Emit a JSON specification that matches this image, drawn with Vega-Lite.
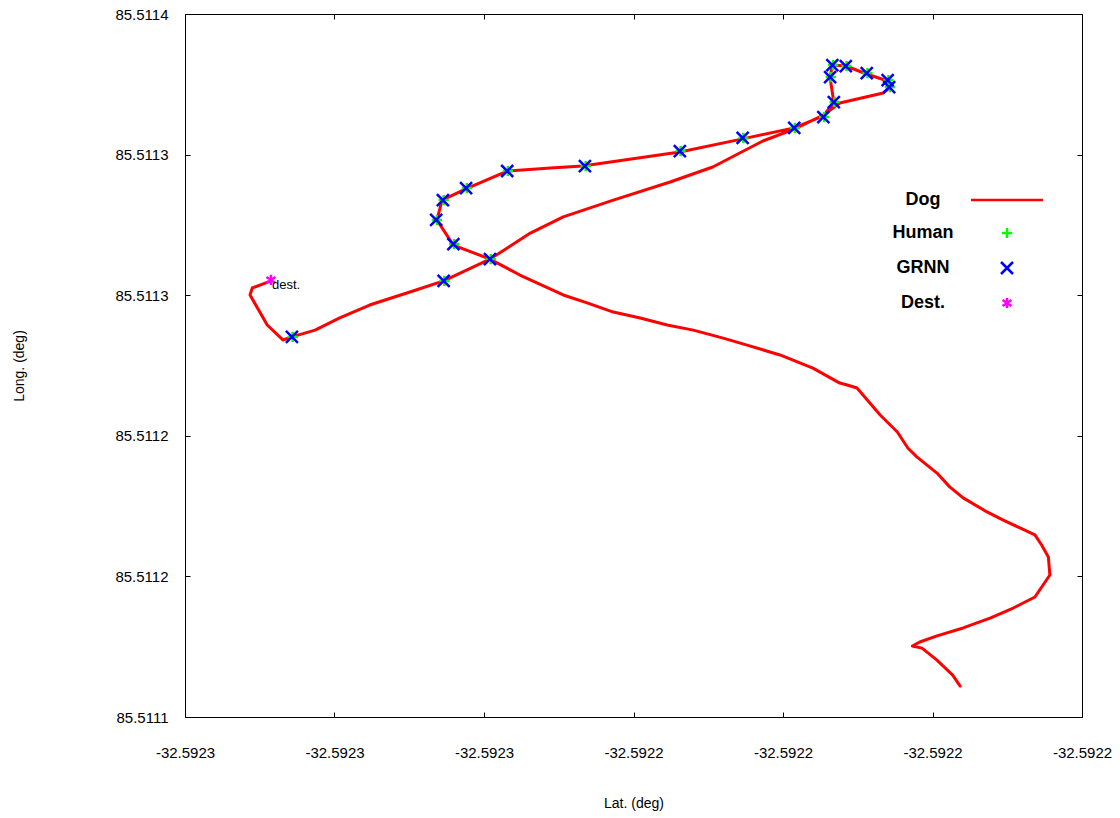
{
  "$schema": "https://vega.github.io/schema/vega-lite/v6.json",
  "width": 897,
  "height": 703,
  "autosize": "none",
  "padding": {"left": 185, "top": 14, "right": 38, "bottom": 101},
  "background": "white",
  "config": {
    "locale": {"number": {"decimal": ".", "thousands": ",", "grouping": [3], "currency": ["$", ""], "minus": "-"}},
    "font": "Liberation Sans",
    "view": {"stroke": "#000000", "strokeWidth": 1},
    "axis": {
      "domain": false,
      "grid": false,
      "tickColor": "#000000",
      "tickWidth": 1,
      "tickSize": -5,
      "labelFont": "Liberation Sans",
      "labelFontSize": 15,
      "labelColor": "#000000",
      "labelFlush": false,
      "labelOverlap": false,
      "titleFont": "Liberation Sans",
      "titleFontSize": 14,
      "titleFontWeight": "normal",
      "titleColor": "#000000"
    }
  },
  "datasets": {
    "dog": [
      {"seq": 1, "lat": -32.5921963, "lon": 85.5111132},
      {"seq": 2, "lat": -32.5921973, "lon": 85.5111179},
      {"seq": 3, "lat": -32.5921994, "lon": 85.5111243},
      {"seq": 4, "lat": -32.5922014, "lon": 85.5111294},
      {"seq": 5, "lat": -32.5922027, "lon": 85.5111303},
      {"seq": 6, "lat": -32.5922017, "lon": 85.511132},
      {"seq": 7, "lat": -32.5921994, "lon": 85.5111346},
      {"seq": 8, "lat": -32.5921959, "lon": 85.511138},
      {"seq": 9, "lat": -32.5921923, "lon": 85.5111422},
      {"seq": 10, "lat": -32.5921892, "lon": 85.5111465},
      {"seq": 11, "lat": -32.5921863, "lon": 85.5111512},
      {"seq": 12, "lat": -32.5921843, "lon": 85.5111606},
      {"seq": 13, "lat": -32.5921845, "lon": 85.5111683},
      {"seq": 14, "lat": -32.5921854, "lon": 85.5111734},
      {"seq": 15, "lat": -32.5921863, "lon": 85.5111777},
      {"seq": 16, "lat": -32.5921883, "lon": 85.5111807},
      {"seq": 17, "lat": -32.5921906, "lon": 85.5111841},
      {"seq": 18, "lat": -32.5921927, "lon": 85.5111875},
      {"seq": 19, "lat": -32.5921959, "lon": 85.5111935},
      {"seq": 20, "lat": -32.5921977, "lon": 85.5111982},
      {"seq": 21, "lat": -32.5921994, "lon": 85.5112041},
      {"seq": 22, "lat": -32.5922021, "lon": 85.511211},
      {"seq": 23, "lat": -32.5922033, "lon": 85.5112148},
      {"seq": 24, "lat": -32.5922047, "lon": 85.5112216},
      {"seq": 25, "lat": -32.592207, "lon": 85.5112289},
      {"seq": 26, "lat": -32.5922101, "lon": 85.5112404},
      {"seq": 27, "lat": -32.5922114, "lon": 85.5112417},
      {"seq": 28, "lat": -32.5922124, "lon": 85.5112425},
      {"seq": 29, "lat": -32.592216, "lon": 85.5112489},
      {"seq": 30, "lat": -32.5922204, "lon": 85.5112545},
      {"seq": 31, "lat": -32.5922248, "lon": 85.5112587},
      {"seq": 32, "lat": -32.592228, "lon": 85.5112617},
      {"seq": 33, "lat": -32.592232, "lon": 85.5112651},
      {"seq": 34, "lat": -32.5922355, "lon": 85.5112673},
      {"seq": 35, "lat": -32.5922391, "lon": 85.5112703},
      {"seq": 36, "lat": -32.5922427, "lon": 85.5112728},
      {"seq": 37, "lat": -32.5922462, "lon": 85.5112767},
      {"seq": 38, "lat": -32.5922494, "lon": 85.5112801},
      {"seq": 39, "lat": -32.5922538, "lon": 85.5112865},
      {"seq": 40, "lat": -32.5922552, "lon": 85.5112886},
      {"seq": 41, "lat": -32.5922592, "lon": 85.5112954},
      {"seq": 42, "lat": -32.5922641, "lon": 85.5113014},
      {"seq": 43, "lat": -32.5922663, "lon": 85.5113121},
      {"seq": 44, "lat": -32.5922656, "lon": 85.5113206},
      {"seq": 45, "lat": -32.5922625, "lon": 85.5113253},
      {"seq": 46, "lat": -32.5922569, "lon": 85.511333},
      {"seq": 47, "lat": -32.5922511, "lon": 85.5113343},
      {"seq": 48, "lat": -32.5922468, "lon": 85.5113351},
      {"seq": 49, "lat": -32.5922338, "lon": 85.5113411},
      {"seq": 50, "lat": -32.5922254, "lon": 85.5113467},
      {"seq": 51, "lat": -32.5922185, "lon": 85.5113514},
      {"seq": 52, "lat": -32.5922146, "lon": 85.5113565},
      {"seq": 53, "lat": -32.5922132, "lon": 85.5113624},
      {"seq": 54, "lat": -32.5922137, "lon": 85.5113727},
      {"seq": 55, "lat": -32.5922134, "lon": 85.5113782},
      {"seq": 56, "lat": -32.5922116, "lon": 85.5113778},
      {"seq": 57, "lat": -32.5922088, "lon": 85.5113744},
      {"seq": 58, "lat": -32.592206, "lon": 85.5113714},
      {"seq": 59, "lat": -32.5922058, "lon": 85.5113684},
      {"seq": 60, "lat": -32.5922066, "lon": 85.5113663},
      {"seq": 61, "lat": -32.5922124, "lon": 85.511362},
      {"seq": 62, "lat": -32.5922146, "lon": 85.5113569},
      {"seq": 63, "lat": -32.5922185, "lon": 85.5113509},
      {"seq": 64, "lat": -32.5922227, "lon": 85.5113458},
      {"seq": 65, "lat": -32.5922294, "lon": 85.5113347},
      {"seq": 66, "lat": -32.5922351, "lon": 85.5113283},
      {"seq": 67, "lat": -32.5922427, "lon": 85.5113206},
      {"seq": 68, "lat": -32.5922494, "lon": 85.5113134},
      {"seq": 69, "lat": -32.5922538, "lon": 85.5113065},
      {"seq": 70, "lat": -32.5922592, "lon": 85.5112954},
      {"seq": 71, "lat": -32.5922654, "lon": 85.5112861},
      {"seq": 72, "lat": -32.5922695, "lon": 85.5112818},
      {"seq": 73, "lat": -32.5922753, "lon": 85.5112758},
      {"seq": 74, "lat": -32.5922793, "lon": 85.5112703},
      {"seq": 75, "lat": -32.5922826, "lon": 85.5112651},
      {"seq": 76, "lat": -32.5922857, "lon": 85.5112622},
      {"seq": 77, "lat": -32.5922869, "lon": 85.5112609},
      {"seq": 78, "lat": -32.592289, "lon": 85.5112673},
      {"seq": 79, "lat": -32.5922913, "lon": 85.5112801},
      {"seq": 80, "lat": -32.592291, "lon": 85.5112831},
      {"seq": 81, "lat": -32.5922885, "lon": 85.5112861}
    ],
    "pts": [
      {"series": "Human", "lat": -32.5922856, "lon": 85.5112622},
      {"series": "Human", "lat": -32.5922653, "lon": 85.5112861},
      {"series": "Human", "lat": -32.5922591, "lon": 85.5112954},
      {"series": "Human", "lat": -32.592264, "lon": 85.5113018},
      {"series": "Human", "lat": -32.5922663, "lon": 85.5113121},
      {"series": "Human", "lat": -32.5922654, "lon": 85.5113206},
      {"series": "Human", "lat": -32.5922623, "lon": 85.5113257},
      {"series": "Human", "lat": -32.5922568, "lon": 85.511333},
      {"series": "Human", "lat": -32.5922464, "lon": 85.5113351},
      {"series": "Human", "lat": -32.5922337, "lon": 85.5113415},
      {"series": "Human", "lat": -32.5922253, "lon": 85.5113471},
      {"series": "Human", "lat": -32.5922184, "lon": 85.5113514},
      {"series": "Human", "lat": -32.5922145, "lon": 85.511356},
      {"series": "Human", "lat": -32.5922131, "lon": 85.5113624},
      {"series": "Human", "lat": -32.5922136, "lon": 85.5113731},
      {"series": "Human", "lat": -32.5922133, "lon": 85.5113782},
      {"series": "Human", "lat": -32.5922115, "lon": 85.5113778},
      {"series": "Human", "lat": -32.5922087, "lon": 85.5113748},
      {"series": "Human", "lat": -32.5922059, "lon": 85.5113718},
      {"series": "Human", "lat": -32.5922057, "lon": 85.5113688},
      {"series": "GRNN", "lat": -32.5922857, "lon": 85.5112622},
      {"series": "GRNN", "lat": -32.5922654, "lon": 85.5112861},
      {"series": "GRNN", "lat": -32.5922592, "lon": 85.5112954},
      {"series": "GRNN", "lat": -32.5922641, "lon": 85.5113018},
      {"series": "GRNN", "lat": -32.5922664, "lon": 85.5113121},
      {"series": "GRNN", "lat": -32.5922655, "lon": 85.5113206},
      {"series": "GRNN", "lat": -32.5922624, "lon": 85.5113257},
      {"series": "GRNN", "lat": -32.5922569, "lon": 85.511333},
      {"series": "GRNN", "lat": -32.5922465, "lon": 85.5113351},
      {"series": "GRNN", "lat": -32.5922338, "lon": 85.5113415},
      {"series": "GRNN", "lat": -32.5922254, "lon": 85.5113471},
      {"series": "GRNN", "lat": -32.5922185, "lon": 85.5113514},
      {"series": "GRNN", "lat": -32.5922146, "lon": 85.511356},
      {"series": "GRNN", "lat": -32.5922132, "lon": 85.5113624},
      {"series": "GRNN", "lat": -32.5922137, "lon": 85.5113731},
      {"series": "GRNN", "lat": -32.5922134, "lon": 85.5113782},
      {"series": "GRNN", "lat": -32.5922116, "lon": 85.5113778},
      {"series": "GRNN", "lat": -32.5922088, "lon": 85.5113748},
      {"series": "GRNN", "lat": -32.592206, "lon": 85.5113718},
      {"series": "GRNN", "lat": -32.5922058, "lon": 85.5113688},
      {"series": "Dest.", "lat": -32.5922885, "lon": 85.5112865, "note": "dest."}
    ]
  },
  "layer": [
    {
      "data": {"name": "dog"},
      "mark": {"type": "line", "color": "#ff0000", "strokeWidth": 3, "strokeJoin": "round", "strokeCap": "round"},
      "encoding": {
        "x": {
          "field": "lat", "type": "quantitative",
          "scale": {"domain": [-32.5923, -32.59218], "nice": false, "zero": false},
          "axis": {
            "orient": "bottom",
            "values": [-32.5923, -32.59228, -32.59226, -32.59224, -32.59222, -32.5922, -32.59218],
            "format": ".4f",
            "labelPadding": 33,
            "title": "Lat. (deg)",
            "titlePadding": 36
          }
        },
        "y": {
          "field": "lon", "type": "quantitative",
          "scale": {"domain": [85.5111, 85.5114], "nice": false, "zero": false},
          "axis": {
            "orient": "left",
            "values": [85.5111, 85.51116, 85.51122, 85.51128, 85.51134, 85.5114],
            "format": ".4f",
            "labelPadding": 22,
            "title": "Long. (deg)",
            "titlePadding": 88
          }
        },
        "order": {"field": "seq", "type": "quantitative"}
      }
    },
    {
      "data": {"name": "pts"},
      "mark": {"type": "point", "filled": false, "strokeWidth": 2.5, "size": 144, "opacity": 1},
      "encoding": {
        "x": {
          "field": "lat", "type": "quantitative",
          "axis": {
            "orient": "top",
            "values": [-32.5923, -32.59228, -32.59226, -32.59224, -32.59222, -32.5922, -32.59218],
            "labels": false,
            "title": null
          }
        },
        "y": {
          "field": "lon", "type": "quantitative",
          "axis": {
            "orient": "right",
            "values": [85.5111, 85.51116, 85.51122, 85.51128, 85.51134, 85.5114],
            "labels": false,
            "title": null
          }
        },
        "color": {
          "field": "series", "type": "nominal",
          "scale": {"domain": ["Dog", "Human", "GRNN", "Dest."], "range": ["#ff0000", "#00ff00", "#0000ff", "#ff00ff"]},
          "legend": {
            "title": null,
            "orient": "none",
            "legendX": 813,
            "legendY": 177,
            "padding": 0,
            "labelAlign": "center",
            "labelOffset": -93,
            "labelFont": "Liberation Sans",
            "labelFontSize": 18,
            "labelFontWeight": "bold",
            "labelColor": "#000000",
            "symbolSize": 144,
            "symbolStrokeWidth": 2.5,
            "rowPadding": 13
          }
        },
        "shape": {
          "field": "series", "type": "nominal",
          "scale": {"domain": ["Dog", "Human", "GRNN", "Dest."], "range": ["M-6,0H6", "M-0.85,0H0.85M0,-0.85V0.85", "M-1,-1L1,1M-1,1L1,-1", "M0,-0.85V0.85M-0.75,-0.5L0.75,0.5M-0.75,0.5L0.75,-0.5"]},
          "legend": {
            "title": null,
            "orient": "none",
            "legendX": 813,
            "legendY": 177,
            "padding": 0,
            "labelAlign": "center",
            "labelOffset": -93,
            "labelFont": "Liberation Sans",
            "labelFontSize": 18,
            "labelFontWeight": "bold",
            "labelColor": "#000000",
            "symbolSize": 144,
            "symbolStrokeWidth": 2.5,
            "rowPadding": 13
          }
        }
      }
    },
    {
      "data": {"name": "pts"},
      "transform": [{"filter": "datum.series === 'Dest.'"}],
      "mark": {"type": "text", "align": "left", "baseline": "middle", "dx": 1, "dy": 5, "fontSize": 13, "font": "Liberation Sans", "color": "#000000"},
      "encoding": {
        "x": {"field": "lat", "type": "quantitative", "axis": null},
        "y": {"field": "lon", "type": "quantitative", "axis": null},
        "text": {"field": "note"}
      }
    }
  ],
  "resolve": {"axis": {"x": "independent", "y": "independent"}}
}
